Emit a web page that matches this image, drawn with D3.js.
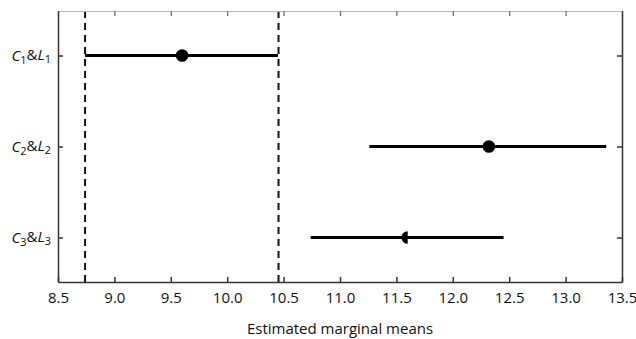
<!DOCTYPE html>
<html><head><meta charset="utf-8">
<script src="https://cdn.jsdelivr.net/npm/d3@7"></script>
<style>body{margin:0;background:#fff;} svg{display:block;} text{font-family:"Open Sans",sans-serif;fill:#111;}</style>
</head><body>
<svg id="chart" width="636" height="339"></svg>
<script>
const categories = ["C1&L1","C2&L2","C3&L3"];
const means = [9.6, 12.32, 11.6];
const lower = [8.74, 11.26, 10.74];
const upper = [10.45, 13.36, 12.45];
const markers = ["circle","circle","halfLeft"];
const refLines = [8.74, 10.455];
const xTicks = [8.5,9.0,9.5,10.0,10.5,11.0,11.5,12.0,12.5,13.0,13.5];
const xLabel = "Estimated marginal means";

const svg = d3.select("#chart");
const L=58, R=622, T=11, B=282;
const x = d3.scaleLinear().domain([8.5,13.5]).range([L,R]);
const y = d3.scalePoint().domain(categories).range([T,B]).padding(0.489);

// reference dashed lines
svg.selectAll("line.ref").data(refLines).join("line")
  .attr("x1",d=>x(d)).attr("x2",d=>x(d)).attr("y1",T).attr("y2",B)
  .attr("stroke","#111").attr("stroke-width",2).attr("stroke-dasharray","7,5");

// axes
const axisColor="#333";
const gB = svg.append("g").attr("transform",`translate(0,${B})`)
  .call(d3.axisBottom(x).tickValues(xTicks).tickFormat(d3.format(".1f")).tickSizeInner(-5).tickSizeOuter(0).tickPadding(10));
gB.select(".domain").attr("stroke",axisColor).attr("stroke-width",1.5);
gB.selectAll(".tick line").attr("stroke",axisColor).attr("stroke-width",1.5);
gB.selectAll(".tick text").style("font-size","15px").attr("fill","#111");

const gT = svg.append("g").attr("transform",`translate(0,${T})`)
  .call(d3.axisTop(x).tickValues(xTicks).tickFormat("").tickSizeInner(-5).tickSizeOuter(0));
gT.select(".domain").attr("stroke","#bbb").attr("stroke-width",1);
gT.selectAll(".tick line").attr("stroke","#666").attr("stroke-width",1.2);

const gL = svg.append("g").attr("transform",`translate(${L},0)`)
  .call(d3.axisLeft(y).tickSizeInner(-5).tickSizeOuter(0).tickFormat(""));
gL.select(".domain").attr("stroke",axisColor).attr("stroke-width",1.5);
gL.selectAll(".tick line").attr("stroke",axisColor).attr("stroke-width",1.5);

const gR = svg.append("g").attr("transform",`translate(${R},0)`)
  .call(d3.axisRight(y).tickSizeInner(-5).tickSizeOuter(0).tickFormat(""));
gR.select(".domain").attr("stroke",axisColor).attr("stroke-width",1.5);
gR.selectAll(".tick line").attr("stroke",axisColor).attr("stroke-width",1.5);

// y labels with italic letters and subscripts
categories.forEach((c,i)=>{
  const n = c.charAt(1);
  const t = svg.append("text").attr("x",L-7).attr("y",y(c)).attr("dy","0.35em")
    .attr("text-anchor","end").style("font-size","15px");
  t.append("tspan").attr("font-style","italic").text("C");
  t.append("tspan").attr("dy","0.3em").style("font-size","11px").text(n);
  t.append("tspan").attr("dy","-0.3em").text("&");
  t.append("tspan").attr("font-style","italic").attr("dy","0").text("L");
  t.append("tspan").attr("dy","0.3em").style("font-size","11px").text(n);
});

// error bars
svg.selectAll("line.ci").data(categories).join("line")
  .attr("x1",(d,i)=>x(lower[i])).attr("x2",(d,i)=>x(upper[i]))
  .attr("y1",d=>y(d)).attr("y2",d=>y(d))
  .attr("stroke","#000").attr("stroke-width",2.8);

// markers
const r=6.3;
categories.forEach((c,i)=>{
  const cx=x(means[i]), cy=y(c);
  if(markers[i]==="circle"){
    svg.append("circle").attr("cx",cx).attr("cy",cy).attr("r",r).attr("fill","#000");
  } else {
    const p=d3.path(); p.moveTo(cx,cy-r); p.arc(cx,cy,r,-Math.PI/2,Math.PI/2,true); p.closePath();
    svg.append("path").attr("d",p.toString()).attr("fill","#000");
  }
});

svg.append("text").attr("x",(L+R)/2).attr("y",334).attr("text-anchor","middle")
  .style("font-size","15px").text(xLabel);
</script>
</body></html>
